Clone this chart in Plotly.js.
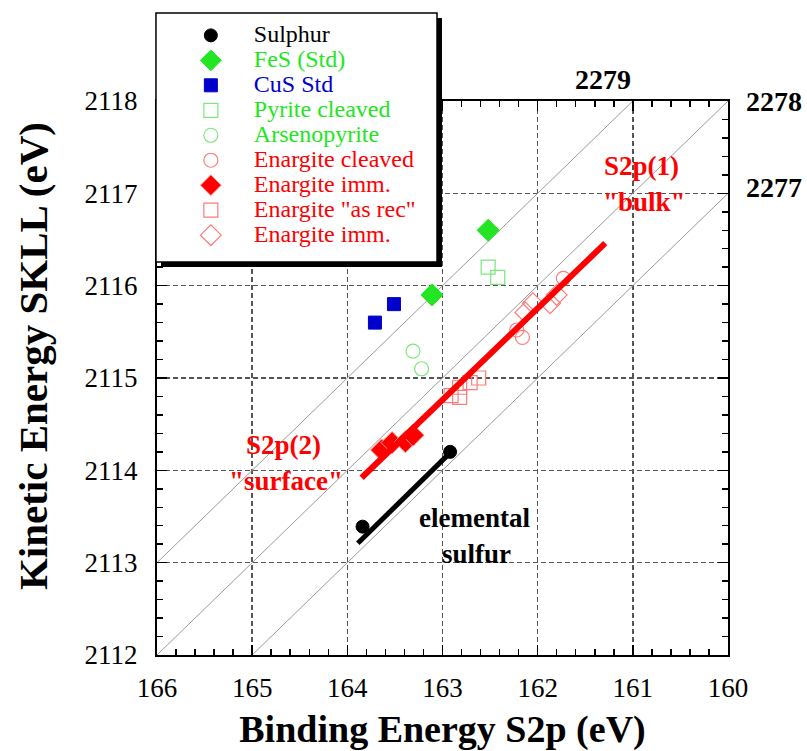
<!DOCTYPE html>
<html>
<head>
<meta charset="utf-8">
<script src="https://cdn.plot.ly/plotly-3.0.1.min.js"></script>
<style>
  html, body { margin: 0; padding: 0; background: #fff; }
  #chart { width: 807px; height: 751px; }
</style>
</head>
<body>
<div id="chart"></div>
<script>
// S2p binding energy (eV) vs S KLL kinetic energy (eV) for sulphur species
const sulphurBE = [163.84, 162.92];
const sulphurKE = [2113.39, 2114.20];

const fesBE = [162.52, 163.11];
const fesKE = [2116.60, 2115.90];

const cusBE = [163.71, 163.51];
const cusKE = [2115.60, 2115.80];

const pyriteBE = [162.52, 162.42];
const pyriteKE = [2116.20, 2116.09];

const arsenoBE = [163.31, 163.22];
const arsenoKE = [2115.29, 2115.10];

const enCleavedBE = [161.73, 162.22, 162.16];
const enCleavedKE = [2116.08, 2115.52, 2115.44];

const enImmBE = [163.64, 163.53, 163.39, 163.31];
const enImmKE = [2114.22, 2114.30, 2114.31, 2114.38];

const enAsRecBE = [162.91, 162.82, 162.82, 162.71, 162.62];
const enAsRecKE = [2114.81, 2114.79, 2114.90, 2114.95, 2115.00];

const enImmOpenBE = [162.13, 162.05, 161.87, 161.80];
const enImmOpenKE = [2115.71, 2115.81, 2115.81, 2115.90];

// Trend lines
const enargiteFitBE = [163.85, 161.29];
const enargiteFitKE = [2113.92, 2116.46];
const sulfurFitBE = [163.89, 162.94];
const sulfurFitKE = [2113.21, 2114.17];

// Constant Auger parameter lines: alpha = KE + BE
const augerParams = [2277, 2278, 2279];
const beRange = [166, 160];
const keRange = [2112, 2118];

const serif = "'Liberation Serif', serif";
const GREEN = '#22e622';
const GREEN_LIGHT = '#7be87b';
const BLUE = '#0000cc';
const RED = '#ff0000';
const RED_LIGHT = '#ff7a7a';

// legend labels: larger glyphs than the row pitch font
function colored(text, color) {
  return '<span style="color:' + color + ';font-size:24px">' + text + '</span>';
}

const traces = [];

augerParams.forEach(a => {
  traces.push({
    x: beRange, y: beRange.map(be => a - be),
    mode: 'lines', line: {color: '#9a9a9a', width: 1},
    showlegend: false, hoverinfo: 'skip'
  });
});

function pts(be, ke, name, color, symbol, size, open, lineColor) {
  return {
    x: be, y: ke, mode: 'markers', name: name,
    marker: open
      ? {symbol: symbol + '-open', size: size, color: color, line: {width: 1.2, color: color}}
      : {symbol: symbol, size: size, color: color, line: {width: 1, color: lineColor || color}}
  };
}

traces.push(pts(sulphurBE, sulphurKE, colored('Sulphur', '#000'), '#000', 'circle', 13, false));
traces.push(pts(fesBE, fesKE, colored('FeS (Std)', GREEN), GREEN, 'diamond', 17, false));
traces.push(pts(cusBE, cusKE, colored('CuS Std', BLUE), BLUE, 'square', 13, false));
traces.push(pts(pyriteBE, pyriteKE, colored('Pyrite cleaved', GREEN), GREEN_LIGHT, 'square', 14, true));
traces.push(pts(arsenoBE, arsenoKE, colored('Arsenopyrite', GREEN), GREEN_LIGHT, 'circle', 14, true));
traces.push(pts(enCleavedBE, enCleavedKE, colored('Enargite cleaved', RED), RED_LIGHT, 'circle', 14, true));
traces.push(pts(enImmBE, enImmKE, colored('Enargite imm.', RED), RED, 'diamond', 17, false, '#ff9a9a'));
traces.push(pts(enAsRecBE, enAsRecKE, colored('Enargite "as rec"', RED), RED_LIGHT, 'square', 14, true));
traces.push(pts(enImmOpenBE, enImmOpenKE, colored('Enargite imm.', RED), RED_LIGHT, 'diamond', 16, true));

traces.push({x: enargiteFitBE, y: enargiteFitKE, mode: 'lines',
  line: {color: RED, width: 6}, showlegend: false, hoverinfo: 'skip'});
traces.push({x: sulfurFitBE, y: sulfurFitKE, mode: 'lines',
  line: {color: '#000', width: 5}, showlegend: false, hoverinfo: 'skip'});

const axisCommon = {
  showline: true, linecolor: '#000', linewidth: 2, mirror: 'allticks',
  ticks: 'inside', ticklen: 10, tickwidth: 1.5, tickcolor: '#000',
  showgrid: true, gridcolor: '#555', gridwidth: 1.5, griddash: '5px,3px',
  zeroline: false, dtick: 1,
  tickfont: {family: serif, size: 27, color: '#000'},
  minor: {dtick: 0.2, ticks: 'inside', ticklen: 6, tickwidth: 1.5, tickcolor: '#000', showgrid: false}
};

const annFont = (color) => ({family: serif, size: 27, color: color, weight: 'bold'});

const layout = {
  width: 807, height: 751,
  margin: {l: 157, r: 79, t: 101, b: 96},
  paper_bgcolor: '#fff', plot_bgcolor: '#fff',
  showlegend: true,
  xaxis: Object.assign({}, axisCommon, {
    range: beRange, tick0: 160, ticklabelstandoff: 8,
    title: {text: '<b>Binding Energy S2p (eV)</b>', font: {family: serif, size: 38, color: '#000'}, standoff: 14}
  }),
  yaxis: Object.assign({}, axisCommon, {
    range: keRange, tick0: 2112, ticklabelstandoff: 12
  }),
  legend: {
    x: 0.019, y: 1.15, xanchor: 'left', yanchor: 'top',
    bgcolor: 'rgba(0,0,0,0)', borderwidth: 0,
    font: {family: serif, size: 16.9, color: '#000'},
    itemwidth: 76, tracegroupgap: 0
  },
  shapes: [
    {type: 'rect', xref: 'paper', yref: 'paper', x0: 0.007, x1: 0.4991, y0: 0.7004, y1: 1.1498,
      fillcolor: '#000', line: {width: 0}, layer: 'above'},
    {type: 'rect', xref: 'paper', yref: 'paper', x0: -0.0018, x1: 0.4904, y0: 0.7094, y1: 1.1588,
      fillcolor: '#fff', line: {width: 1.5, color: '#000'}, layer: 'above'}
  ],
  annotations: [
    // y-axis title
    {xref: 'paper', yref: 'paper', x: -0.217, y: 0.5397, xanchor: 'center', yanchor: 'middle',
      textangle: -90, showarrow: false, text: '<b>Kinetic Energy SKLL (eV)</b>',
      font: {family: serif, size: 41, color: '#000'}},
    // Auger parameter labels for the diagonal lines
    {xref: 'paper', yref: 'paper', x: 5 / 6, y: 1, yanchor: 'bottom', yshift: 4, showarrow: false,
      text: '2279', font: {family: serif, size: 28, color: '#000', weight: 'bold'}},
    {xref: 'paper', yref: 'paper', x: 1, y: 1, xanchor: 'left', yanchor: 'middle', xshift: 16, showarrow: false,
      text: '2278', font: {family: serif, size: 28, color: '#000', weight: 'bold'}},
    {xref: 'paper', yref: 'paper', x: 1, y: 5 / 6, xanchor: 'left', yanchor: 'middle', xshift: 16, yshift: 6, showarrow: false,
      text: '2277', font: {family: serif, size: 28, color: '#000', weight: 'bold'}},
    // region labels
    {x: 160.91, y: 2117.296, showarrow: false, borderpad: 0, text: 'S2p(1)', font: annFont(RED)},
    {x: 160.88, y: 2116.906, showarrow: false, borderpad: 0, text: '"bulk"', font: annFont(RED)},
    {x: 164.67, y: 2114.274, showarrow: false, borderpad: 0, text: 'S2p(2)', font: annFont(RED)},
    {x: 164.64, y: 2113.885, showarrow: false, borderpad: 0, text: '"surface"', font: annFont(RED)},
    {x: 162.66, y: 2113.484, showarrow: false, borderpad: 0, text: 'elemental', font: annFont('#000')},
    {x: 162.64, y: 2113.094, showarrow: false, borderpad: 0, text: 'sulfur', font: annFont('#000')}
  ]
};

Plotly.newPlot('chart', traces, layout, {displayModeBar: false, staticPlot: true});
</script>
</body>
</html>
